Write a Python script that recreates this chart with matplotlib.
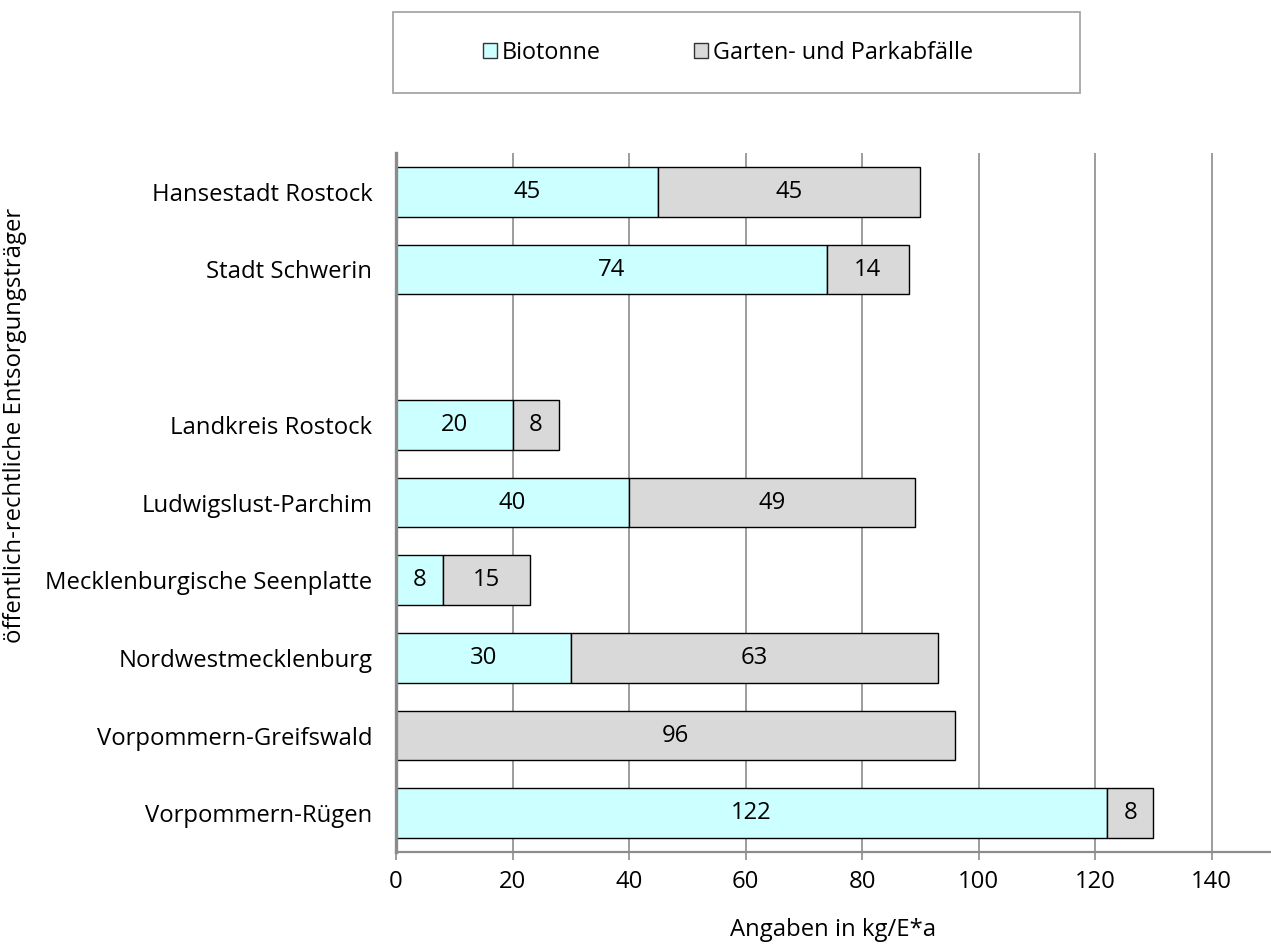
import numpy as np
import matplotlib
matplotlib.use("Agg")
import matplotlib.pyplot as plt
from matplotlib.patches import Rectangle, Patch

plt.rcParams['font.family'] = ['Open Sans', 'DejaVu Sans']

# Disposal authorities (empty entry = visual gap between cities and districts)
categories = [
    "Hansestadt Rostock",
    "Stadt Schwerin",
    "",
    "Landkreis Rostock",
    "Ludwigslust-Parchim",
    "Mecklenburgische Seenplatte",
    "Nordwestmecklenburg",
    "Vorpommern-Greifswald",
    "Vorpommern-Rügen",
]
biotonne = [45, 74, None, 20, 40, 8, 30, None, 122]
garten = [45, 14, None, 8, 49, 15, 63, 96, 8]
series_names = ["Biotonne", "Garten- und Parkabfälle"]
x_ticks = [0, 20, 40, 60, 80, 100, 120, 140]

col_bio = "#CCFFFF"
col_gart = "#D9D9D9"
grid_col = "#8C8C8C"
fs = 17.2

fig = plt.figure(figsize=(12.71, 9.47), dpi=100)
ax = fig.add_axes([396 / 1271, 1 - 852 / 947, (1270 - 396) / 1271, (852 - 153) / 947])

y = np.arange(len(categories))
bio = np.array([np.nan if v is None else v for v in biotonne], dtype=float)
gar = np.array([np.nan if v is None else v for v in garten], dtype=float)
left_g = np.nan_to_num(bio)

h = 0.64
ax.barh(y, bio, height=h, color=col_bio, edgecolor="black", linewidth=1.0, zorder=3)
ax.barh(y, gar, left=left_g, height=h, color=col_gart, edgecolor="black", linewidth=1.0, zorder=3)

for i in range(len(categories)):
    if not np.isnan(bio[i]) and bio[i] > 0:
        ax.text(bio[i] / 2, y[i], f"{int(bio[i])}", ha="center", va="center", fontsize=fs, zorder=4)
    if not np.isnan(gar[i]) and gar[i] > 0:
        ax.text(left_g[i] + gar[i] / 2, y[i], f"{int(gar[i])}", ha="center", va="center", fontsize=fs, zorder=4)

ax.set_xlim(0, 150)
ax.set_ylim(len(categories) - 0.5, -0.5)
ax.set_xticks(x_ticks)
ax.set_xticklabels([str(t) for t in x_ticks], fontsize=fs)
ax.set_yticks(y)
ax.set_yticklabels(categories, fontsize=fs)

for t in x_ticks[1:]:
    ax.axvline(t, color=grid_col, linewidth=1.2, zorder=1)

for s in ["top", "right"]:
    ax.spines[s].set_visible(False)
ax.spines["left"].set_color(grid_col)
ax.spines["left"].set_linewidth(2.4)
ax.spines["left"].set_zorder(5)
ax.spines["bottom"].set_color(grid_col)
ax.spines["bottom"].set_linewidth(1.6)

ax.tick_params(axis="x", direction="out", length=6, width=1.2, color=grid_col, pad=7)
ax.tick_params(axis="y", length=0, pad=17)

fig.text(833 / 1271, 1 - 930 / 947, "Angaben in kg/E*a", ha="center", va="center", fontsize=fs)
fig.text(15 / 1271, 1 - 425 / 947, "öffentlich-rechtliche Entsorgungsträger",
         ha="center", va="center", rotation=90, fontsize=fs)

# Legend frame
fig.patches.append(Rectangle((393 / 1271, 1 - 93 / 947), (1080 - 393) / 1271, (93 - 12) / 947,
                             transform=fig.transFigure, facecolor="white",
                             edgecolor="#A6A6A6", linewidth=1.3))
handles = [Patch(facecolor=col_bio, edgecolor="#333333", linewidth=1.0),
           Patch(facecolor=col_gart, edgecolor="#333333", linewidth=1.0)]
fig.legend(handles, series_names, loc="center", bbox_to_anchor=(728 / 1271, 1 - 53 / 947),
           ncol=2, frameon=False, fontsize=16.8, handlelength=0.6, handleheight=0.6,
           handletextpad=0.2, columnspacing=4.0)

fig.savefig("out.png", dpi=100)
